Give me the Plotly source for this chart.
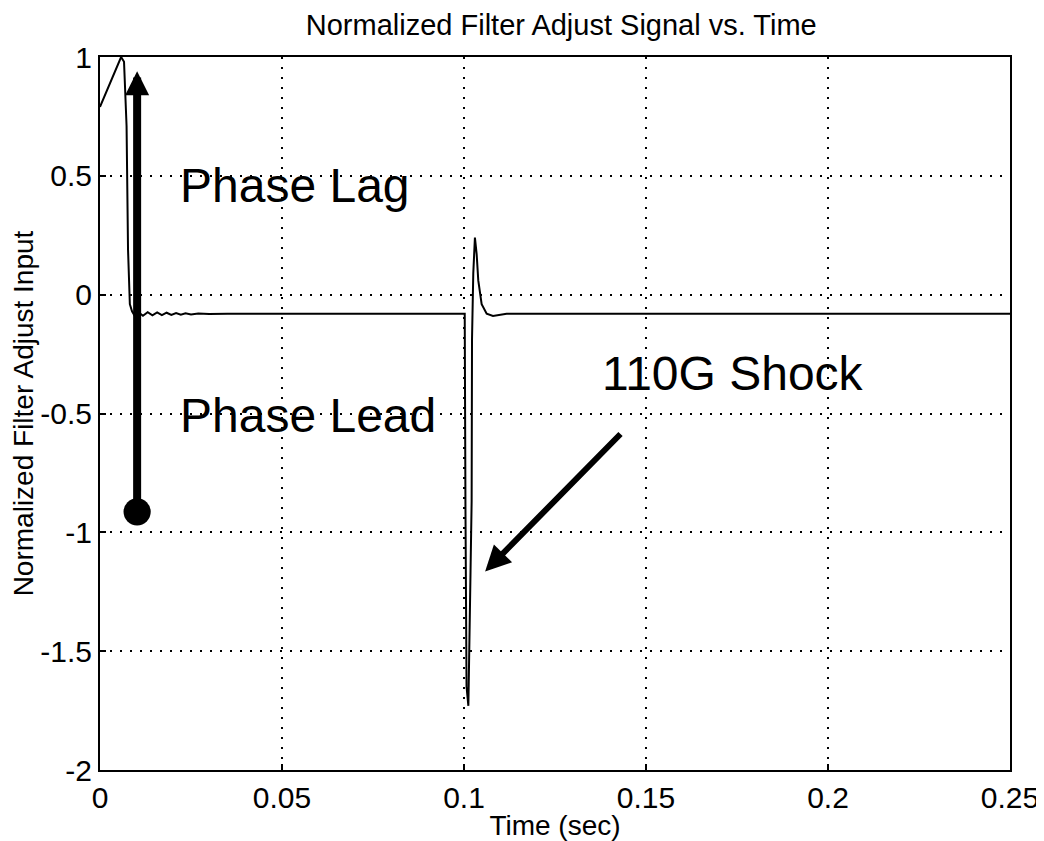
import plotly.graph_objects as go

# Signal samples (time in s, normalized value)
time_s = [0, 0.0058, 0.0066, 0.0073, 0.0077, 0.0082, 0.0088, 0.0095, 0.0105, 0.0118,
          0.0131, 0.0144, 0.0157, 0.0170, 0.0183, 0.0196, 0.0209, 0.0222, 0.0235,
          0.0250, 0.0270, 0.0300, 0.0350, 0.1002, 0.1004, 0.1007, 0.1012, 0.1016,
          0.1018, 0.1021, 0.1022, 0.10255, 0.1030, 0.10348, 0.10392, 0.10485,
          0.10623, 0.10796, 0.1117, 0.2500]
signal = [0.79, 1.00, 0.98, 0.71, 0.19, -0.04, -0.07, -0.088, -0.073, -0.089,
          -0.074, -0.087, -0.075, -0.086, -0.076, -0.085, -0.077, -0.084, -0.078,
          -0.083, -0.079, -0.081, -0.080, -0.080, -0.90, -1.65, -1.73, -1.44,
          -1.16, -0.87, -0.19, 0.09, 0.24, 0.17, 0.06, -0.04,
          -0.08, -0.09, -0.08, -0.08]

x_ticks = [0, 0.05, 0.1, 0.15, 0.2, 0.25]
x_tick_labels = ["0", "0.05", "0.1", "0.15", "0.2", "0.25"]
y_ticks = [-2, -1.5, -1, -0.5, 0, 0.5, 1]
y_tick_labels = ["-2", "-1.5", "-1", "-0.5", "0", "0.5", "1"]

# Annotation anchors (data coordinates)
phase_arrow_x = 0.0102
phase_arrow_from = -0.92
phase_arrow_to = 0.94
shock_tail = (0.1434, -0.58)
shock_tip = (0.1058, -1.165)
labels = [("Phase Lag", 0.0214, 0.46), ("Phase Lead", 0.0214, -0.51),
          ("110G Shock", 0.1374, -0.33)]

FONT = "Liberation Sans, Arial, sans-serif"

fig = go.Figure()
fig.add_trace(go.Scatter(x=time_s, y=signal, mode="lines",
                         line=dict(color="black", width=2), showlegend=False))

fig.add_annotation(x=phase_arrow_x, y=phase_arrow_to, ax=phase_arrow_x, ay=phase_arrow_from,
                   xref="x", yref="y", axref="x", ayref="y", text="",
                   showarrow=True, arrowhead=2, arrowsize=0.6, arrowwidth=8,
                   arrowside="end+start", startarrowhead=6, startarrowsize=0.85,
                   arrowcolor="black")
fig.add_annotation(x=shock_tip[0], y=shock_tip[1], ax=shock_tail[0], ay=shock_tail[1],
                   xref="x", yref="y", axref="x", ayref="y", text="",
                   showarrow=True, arrowhead=2, arrowsize=0.85, arrowwidth=6,
                   arrowcolor="black")
for txt, lx, ly in labels:
    fig.add_annotation(x=lx, y=ly, xref="x", yref="y", text=txt, showarrow=False,
                       xanchor="left", yanchor="middle",
                       font=dict(family=FONT, size=48, color="black"))

axis_common = dict(showline=True, linecolor="black", linewidth=2, mirror=True,
                   ticks="inside", ticklen=6, tickwidth=1.5, tickcolor="black",
                   showgrid=True, gridcolor="black", gridwidth=1.5, griddash="2px,8px",
                   zeroline=False, automargin=False, ticklabeloverflow="allow",
                   tickfont=dict(family=FONT, size=30, color="black"))

fig.update_xaxes(range=[0, 0.25], tickvals=x_ticks, ticktext=x_tick_labels,
                 title=dict(text="Time (sec)", font=dict(family=FONT, size=28, color="black"),
                            standoff=0),
                 **axis_common)
fig.update_yaxes(range=[-2, 1], tickvals=y_ticks, ticktext=y_tick_labels,
                 title=dict(text="Normalized Filter Adjust Input",
                            font=dict(family=FONT, size=28, color="black"), standoff=4),
                 **axis_common)

fig.update_layout(
    width=1036, height=833,
    margin=dict(l=92, r=34, t=49, b=71, autoexpand=False),
    paper_bgcolor="white", plot_bgcolor="white",
    title=dict(text="Normalized Filter Adjust Signal vs. Time", x=0.534, xanchor="center",
               y=0.980, yanchor="middle", automargin=False,
               font=dict(family=FONT, size=29, color="black")),
)

fig.write_html("out.html")
